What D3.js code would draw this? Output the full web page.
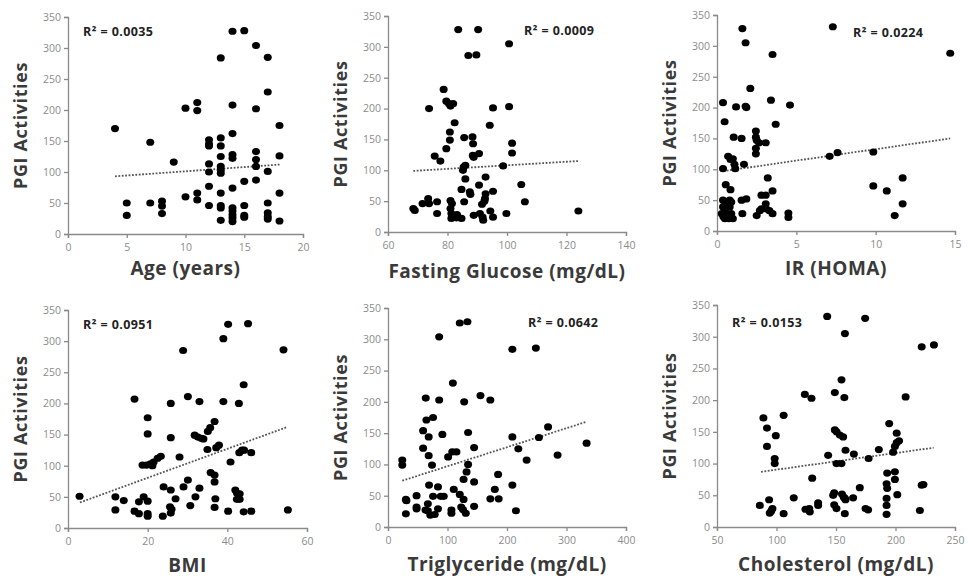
<!DOCTYPE html>
<html>
<head>
<meta charset="utf-8">
<script src="https://cdn.jsdelivr.net/npm/d3@7"></script>
<style>
  body { margin: 0; background: #fff; }
  text { font-family: "Open Sans", "Liberation Sans", sans-serif; }
</style>
</head>
<body>
<svg id="chart" width="968" height="583"></svg>
<script>
// shared y ticks
const yTicks = [0, 50, 100, 150, 200, 250, 300, 350];

// Age (years)
const ageX = [4, 5, 5, 7, 7, 8, 8, 8, 9, 10, 10, 11, 11, 11, 11,
  12, 12, 12, 12, 12, 12, 12,
  13, 13, 13, 13, 13, 13, 13, 13, 13, 13, 13,
  14, 14, 14, 14, 14, 14, 14, 14, 14, 14, 14,
  15, 15, 15, 15, 15,
  16, 16, 16, 16, 16, 16,
  17, 17, 17, 17, 17, 17, 17,
  18, 18, 18, 18];
const ageY = [170, 50, 30, 148, 50, 53, 45, 33, 116, 203, 60, 212, 199, 66, 55,
  152, 145, 142, 113, 100, 77, 46,
  284, 155, 142, 125, 109, 103, 98, 66, 46, 42, 22,
  327, 208, 162, 128, 122, 74, 42, 37, 31, 26, 20,
  328, 85, 46, 30, 27,
  304, 202, 133, 120, 109, 87,
  285, 229, 101, 50, 34, 28, 24,
  175, 126, 66, 21];
const ageTicks = [0, 5, 10, 15, 20];
const ageTrend = [[4, 93], [18, 112]];

// Fasting Glucose (mg/dL)
const glucoseX = [68.5, 69, 71.6, 73.5, 73.8, 73.8, 75.7, 76.5, 76.5, 77.6, 78.7, 79.6, 79.6,
  80.5, 81, 80.8, 80.8, 81, 81, 81.3, 81.3, 81.5, 81.9, 82.4, 83, 83.2, 83.6,
  84.7, 84.7, 85.2, 85.4, 85.6, 85.6, 86, 86, 87, 87.5, 87.7, 88.4, 88.6, 88.5, 88.8, 88.8,
  89.7, 90.3, 90.6, 90.6, 90.9, 91.6, 91.8, 92, 92.8, 92.8, 92.6, 92.4,
  94.2, 94.4, 95.3, 95.3, 95.3, 98.7, 99.8, 100.7, 100.7, 101.7, 101.7, 104.8, 106, 124];
const glucoseY = [38, 35, 46, 54, 46, 200, 123, 49, 30, 115, 231, 212, 135,
  208, 204, 162, 149, 51, 38, 30, 22, 46, 208, 177, 23, 28, 328,
  22, 69, 100, 105, 153, 49, 86, 108, 286, 65, 61, 154, 143, 124, 121, 27,
  287, 328, 127, 76, 30, 45, 24, 19, 89, 62, 54, 50,
  173, 34, 201, 66, 24, 107, 30, 305, 203, 144, 128, 77, 49, 34];
const glucoseTicks = [60, 80, 100, 120, 140];
const glucoseTrend = [[68.5, 99], [124, 115]];

// IR (HOMA)
const homaX = [0.38, 0.48, 0.38, 0.55, 0.38, 0.55, 0.55, 0.38, 0.3, 0.4, 0.5, 0.55,
  0.8, 0.8, 0.9, 0.75, 0.7, 0.85, 1.0, 0.85, 0.9, 1.0, 1.1, 1.15, 1.05, 1.2,
  1.55, 1.6, 1.6, 1.7, 1.55, 1.85, 1.8, 1.8, 1.85, 2.1, 2.45, 2.45, 2.5, 2.45, 2.45, 2.5,
  2.65, 2.7, 2.8, 2.8, 3.07, 3.07, 3.07, 3.1, 3.2, 3.3, 3.4, 3.5, 3.5, 3.5, 3.7,
  4.5, 4.5, 4.6, 7.1, 7.3, 7.6, 9.85, 9.85, 10.7, 11.2, 11.7, 11.7, 14.7];
const homaY = [208, 177, 101, 75, 50, 47, 43, 39, 28, 23, 20, 30,
  50, 39, 28, 20, 121, 67, 117, 116, 47, 20, 108, 101, 152, 201,
  150, 328, 28, 108, 50, 52, 305, 202, 200, 231, 162, 152, 147, 134, 125, 25,
  143, 33, 36, 58, 143, 58, 44, 36, 86, 33, 212, 286, 65, 28, 173,
  29, 22, 204, 121, 331, 127, 128, 73, 65, 25, 86, 44, 288];
const homaTicks = [0, 5, 10, 15];
const homaTrend = [[0.4, 97], [14.7, 150]];

// BMI
const bmiX = [2.9, 11.9, 11.9, 14, 16.7, 16.7, 17.8, 17.8, 19, 18.7, 19.7, 20, 20, 20, 20, 20,
  20.7, 21.2, 21.5, 22.5, 23.3, 23.8, 24, 25.8, 25.8, 25.8, 25.6, 26, 25.8, 27, 28, 28.9, 29,
  30.1, 30.1, 30.7, 31.8, 32, 32.6, 33, 33, 33.5, 34, 35, 35.1, 35.7, 35.8, 36.8, 36.8, 36.8,
  37, 36.8, 37.2, 37.9, 39, 39, 40.2, 40.2, 40.8, 42, 42.4, 42.4, 42.9, 43, 43.7, 44.2,
  43.1, 43.1, 44.1, 44.1, 45.2, 46, 46, 54.1, 55.2];
const bmiY = [51, 50, 29, 44, 207, 27, 23, 42, 50, 101, 101, 177, 151, 43, 23, 19,
  103, 100, 106, 112, 115, 19, 66, 200, 145, 61, 34, 30, 24, 47, 114, 285, 66,
  211, 77, 36, 149, 50, 146, 203, 64, 144, 143, 126, 155, 161, 89, 85, 171, 74,
  47, 33, 129, 133, 304, 203, 327, 27, 106, 61, 56, 46, 200, 121, 125, 125,
  55, 46, 230, 26, 328, 121, 27, 286, 29];
const bmiTicks = [0, 20, 40, 60];
const bmiTrend = [[3, 41], [55, 162]];

// Triglyceride (mg/dL)
const tgX = [24, 24, 30, 30, 31, 48, 48, 48, 59, 59, 63, 63.4, 64.5, 67, 67, 68.4, 68.4, 69, 71,
  74, 75.7, 75.7, 78.5, 84, 84, 86, 86, 88.6, 91.4, 93.7, 101, 108, 115, 106.6, 106.6, 109,
  110.5, 120.6, 133.5, 120.6, 123, 126, 127, 127, 128, 130.7, 132, 134.6, 134.6,
  144.7, 144.7, 144.7, 155.4, 172, 172, 179.5, 185, 186, 209, 209, 209, 215, 219, 233,
  248.5, 253.6, 269, 285, 333.8];
const tgY = [107, 99, 44, 21, 42, 50, 32, 29, 154, 126, 27, 206, 171, 37, 26, 144, 114, 67, 19,
  99, 175, 49, 20, 64, 29, 304, 203, 49, 148, 49, 112, 120, 120, 27, 22, 230,
  60, 326, 328, 52, 32, 28, 44, 76, 200, 22, 88, 100, 151,
  127, 72, 33, 210, 203, 45, 60, 84, 45, 284, 144, 67, 26, 125, 107,
  286, 143, 160, 115, 134];
const tgTicks = [0, 100, 200, 300, 400];
const tgTrend = [[24, 74], [333, 168]];

// Cholesterol (mg/dL)
const cholX = [86, 89, 92, 92, 93.8, 94.3, 96.6, 95.5, 98.5, 98.5, 99.4, 106, 106, 114.5,
  123.8, 124.3, 127.5, 128, 129.4, 130, 135, 135, 142.6, 143.4, 149, 149, 150.5,
  147.6, 148.5, 148.5, 150.4, 150.4, 153.2, 154.6, 154.6, 155, 156.5, 157.5, 157.5, 157,
  156, 157.4, 158, 158, 164.4, 165, 170, 174.5, 174.8, 177, 177.4, 186,
  192.5, 192.5, 192.5, 193, 192.5, 193, 194.7, 198, 199.5, 201, 203, 199.5, 199.5, 201,
  201.5, 208.5, 220.5, 222, 222, 223.5, 232.3];
const cholY = [34, 172, 156, 127, 43, 22, 29, 25, 108, 100, 144, 21, 176, 46,
  209, 28, 29, 24, 203, 77, 38, 34, 332, 113, 212, 153, 150,
  50, 54, 35, 29, 100, 145, 232, 100, 52, 47, 45, 305, 204,
  142, 21, 121, 43, 46, 115, 62, 329, 29, 27, 108, 122,
  20, 34, 45, 61, 68, 85, 163, 118, 127, 133, 136, 87, 75, 148,
  51, 205, 26, 284, 66, 67, 287];
const cholTicks = [50, 100, 150, 200, 250];
const cholTrend = [[87, 87], [232, 125]];

// layout of the six panels (pixel box of each plot area)
const panels = [
  { x: ageX, y: ageY, ticks: ageTicks, trend: ageTrend, r2: "0.0035", title: "Age (years)",
    left: 68, right: 303, top: 17, bottom: 234, r2x: 83, r2y: 36, titleY: 275 },
  { x: glucoseX, y: glucoseY, ticks: glucoseTicks, trend: glucoseTrend, r2: "0.0009", title: "Fasting Glucose (mg/dL)",
    left: 388, right: 626, top: 16, bottom: 232, r2x: 524, r2y: 35, titleY: 278 },
  { x: homaX, y: homaY, ticks: homaTicks, trend: homaTrend, r2: "0.0224", title: "IR (HOMA)",
    left: 717, right: 955, top: 15, bottom: 231, r2x: 853, r2y: 37, titleY: 275 },
  { x: bmiX, y: bmiY, ticks: bmiTicks, trend: bmiTrend, r2: "0.0951", title: "BMI",
    left: 68, right: 307, top: 310, bottom: 528, r2x: 83, r2y: 329, titleY: 572 },
  { x: tgX, y: tgY, ticks: tgTicks, trend: tgTrend, r2: "0.0642", title: "Triglyceride (mg/dL)",
    left: 388, right: 626, top: 308, bottom: 527, r2x: 528, r2y: 327, titleY: 571 },
  { x: cholX, y: cholY, ticks: cholTicks, trend: cholTrend, r2: "0.0153", title: "Cholesterol (mg/dL)",
    left: 717, right: 955, top: 305, bottom: 527, r2x: 732, r2y: 327, titleY: 571 }
];

const svg = d3.select("#chart");
const axisColor = "#8a8a8a";

panels.forEach(function (p) {
  const xScale = d3.scaleLinear()
      .domain([p.ticks[0], p.ticks[p.ticks.length - 1]])
      .range([p.left, p.right]);
  const yScale = d3.scaleLinear().domain([0, 350]).range([p.bottom, p.top]);

  const g = svg.append("g");

  // axes
  const xAxis = g.append("g")
      .attr("transform", "translate(0," + p.bottom + ")")
      .call(d3.axisBottom(xScale).tickValues(p.ticks).tickSize(4).tickPadding(6));
  const yAxis = g.append("g")
      .attr("transform", "translate(" + p.left + ",0)")
      .call(d3.axisLeft(yScale).tickValues(yTicks).tickSize(4).tickPadding(3));
  [xAxis, yAxis].forEach(function (a) {
    a.select(".domain").attr("stroke", axisColor).attr("stroke-width", 1.3);
    a.selectAll(".tick line").attr("stroke", axisColor).attr("stroke-width", 1.3);
    a.selectAll(".tick text")
        .attr("fill", "#8c8c8c")
        .style("font-size", "10.5px");
  });

  // trend line
  g.append("line")
      .attr("x1", xScale(p.trend[0][0]))
      .attr("y1", yScale(p.trend[0][1]))
      .attr("x2", xScale(p.trend[1][0]))
      .attr("y2", yScale(p.trend[1][1]))
      .attr("stroke", "#555")
      .attr("stroke-width", 1.8)
      .attr("stroke-dasharray", "1.8,1.6");

  // dots
  g.selectAll(".dot")
      .data(p.x.map(function (d, i) { return [d, p.y[i]]; }))
      .enter().append("ellipse")
      .attr("cx", function (d) { return xScale(d[0]); })
      .attr("cy", function (d) { return yScale(d[1]); })
      .attr("rx", 4)
      .attr("ry", 3.6)
      .attr("fill", "#000");

  // R² label
  g.append("text")
      .attr("x", p.r2x)
      .attr("y", p.r2y)
      .attr("fill", "#222")
      .style("font-size", "12.5px")
      .style("font-weight", "bold")
      .style("letter-spacing", "0.4px")
      .text("R² = " + p.r2);

  // axis titles
  g.append("text")
      .attr("x", (p.left + p.right) / 2)
      .attr("y", p.titleY)
      .attr("text-anchor", "middle")
      .attr("fill", "#3a3a3a")
      .style("font-size", "19px")
      .style("font-weight", "bold")
      .style("letter-spacing", "0.5px")
      .text(p.title);
  g.append("text")
      .attr("transform", "translate(" + (p.left - 41) + "," + ((p.top + p.bottom) / 2) + ") rotate(-90)")
      .attr("text-anchor", "middle")
      .attr("fill", "#3a3a3a")
      .style("font-size", "18px")
      .style("font-weight", "bold")
      .style("letter-spacing", "0.6px")
      .text("PGI Activities");
});
</script>
</body>
</html>
